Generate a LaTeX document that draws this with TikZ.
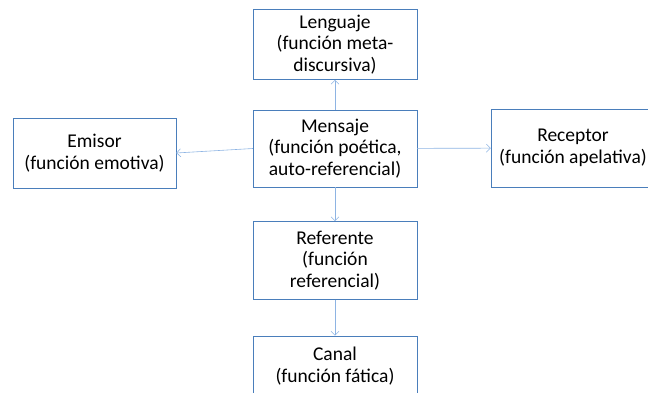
\documentclass[tikz,border=0pt]{standalone}
\usepackage{fontspec}
\setmainfont{Carlito}
\usetikzlibrary{arrows.meta,positioning}
\definecolor{FuncBlue}{HTML}{4A7EBB}
\definecolor{FuncLightBlue}{HTML}{8EB4E3}

\begin{document}
\begin{tikzpicture}[
        x=1pt, y=-1pt,
        box/.style={draw=FuncBlue, fill=white, minimum width=164pt, minimum height=77pt,
          align=center, inner sep=2pt, font=\fontsize{19.5}{21.5}\selectfont},
        arrow/.style={-{Straight Barb[length=4pt,width=8pt]}, draw=FuncLightBlue, semithick}
      ]
        \useasboundingbox (0,0) rectangle (648,392);
        \clip (0,0) rectangle (648,392);
        \node[box] (mensaje) at (335,148.5) {Mensaje\\(función poética,\\auto-referencial)};
        \node[box, minimum height=70pt, above=30pt of mensaje] (lenguaje) {Lenguaje\\(función meta-\\discursiva)};
        \node[box, minimum height=78pt, below=34pt of mensaje] (referente) {Referente\\(función\\referencial)};
        \node[box, minimum height=70pt, below=36pt of referente, text depth=12pt] (canal) {Canal\\(función fática)};
        \node[box, minimum width=163pt, minimum height=70pt] (emisor) at (94.5,153) {Emisor\\(función emotiva)};
        \node[box, minimum height=78pt] (receptor) at (573,148) {Receptor\\(función apelativa)};
        \draw[arrow] (mensaje) -- (lenguaje);
        \draw[arrow] (mensaje.west) -- (emisor.east);
        \draw[arrow] (mensaje) -- (receptor);
        \draw[arrow] (mensaje) -- (referente);
        \draw[arrow] (referente) -- (canal);
      \end{tikzpicture}
\end{document}
